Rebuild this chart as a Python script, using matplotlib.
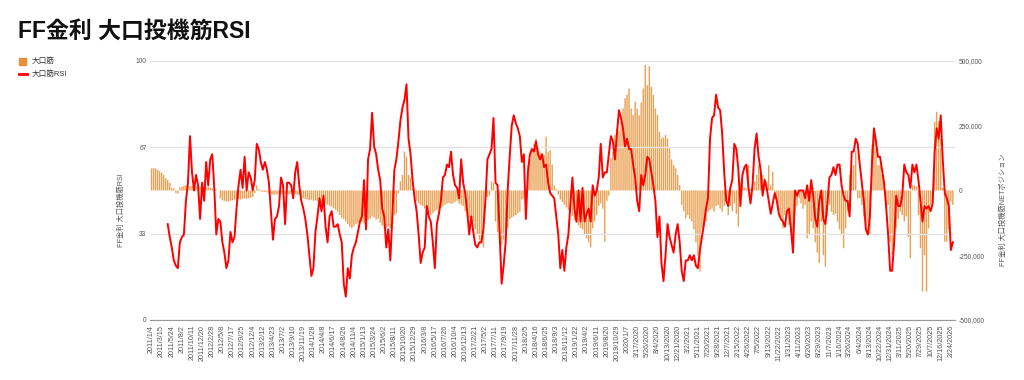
import numpy as np
import matplotlib
matplotlib.use('Agg')
import matplotlib.pyplot as plt
from matplotlib.patches import Rectangle
from matplotlib.lines import Line2D
from matplotlib.ticker import FuncFormatter

plt.rcParams['font.family'] = ['Liberation Sans', 'Noto Sans CJK JP', 'DejaVu Sans']

# 2週間ごとのデータ（2011/1/4 から）
# 大口投機筋ネットポジション（千枚）
net_k = [
    85, 86, 85, 80, 75, 68, 60, 47, 40, 30,
    10, 8, -10, -12, 12, 15, 18, 20, 18, 16,
    18, 15, 18, 16, 15, 18, 15, 14, 16, 12,
    8, 4, 2, 0, -30, -38, -40, -43, -42, -40,
    -38, -35, -36, -33, -35, -32, -30, -33, -30, -28,
    -25, -10, 20, 5, -4, -5, -6, -5, -10, -13,
    -15, -17, -14, -12, -15, -12, -14, -13, -16, -12,
    -15, -14, -16, -17, -20, -30, -33, -35, -38, -36,
    -40, -38, -42, -43, -45, -48, -50, -55, -60, -62,
    -68, -75, -82, -95, -105, -110, -120, -130, -140, -145,
    -138, -130, -125, -118, -122, -127, -120, -115, -110, -100,
    -105, -112, -108, -125, -135, -145, -146, -140, -146, -120,
    -95, -90, -10, 35, 60, 150, 130, 60, 50, 8,
    -30, -40, -50, -55, -60, -70, -80, -90, -95, -88,
    -80, -75, -70, -65, -62, -55, -50, -48, -52, -50,
    -45, -40, -50, -55, -60, -80, -95, -105, -112, -120,
    -150, -170, -190, -205, -220, -30, -25, -20, 35, 30,
    -120, -160, -190, -210, -190, -160, -146, -110, -105, -100,
    -95, -88, -82, -35, -30, -25, 100, 120, 160, 180,
    200, 165, 150, 140, 137, 208, 150, 156, 100, 20,
    5, -15, -35, -45, -55, -65, -75, -85, -100, -115,
    -125, -135, -145, -150, -170, -185, -200, -220, -146, -120,
    -95, -60, -50, -70, -198, -40, -20, 125, 150, 215,
    240, 230, 266, 317, 356, 370, 394, 317, 292, 343,
    317, 290, 340, 394, 485, 407, 480, 400, 369, 317,
    292, 227, 201, 205, 214, 200, 163, 120, 98, 86,
    60, 21, -56, -80, -107, -95, -110, -120, -150, -200,
    -250, -313, -146, -135, -120, -82, -75, -70, -82, -60,
    -56, -70, -82, -60, -43, -95, -60, -80, -50, -90,
    -140, 34, 20, 10, 8, 98, 5, 10, 34, 60,
    98, 80, 60, 47, 34, 98, 20, 73, -20, -43,
    -82, -110, -146, -95, -90, -133, -150, -172, -95, -60,
    -30, -50, -70, -55, -185, -172, -120, -146, -200, -240,
    -280, -120, -250, -294, -100, -56, -82, -95, -90, -120,
    -150, -172, -223, -146, -82, 60, 80, 98, 150, -30,
    -30, -56, -100, -146, -120, -170, 175, 227, 200, 98,
    98, 60, 34, -56, -56, -200, -250, -220, -146, -110,
    -82, -95, -120, -100, -180, -262, 20, 20, 15, -95,
    -223, -390, -250, -390, -146, -56, -43, 266, 304, 266,
    200, 10, -198, -198, -150, -43, -56,
]

# 大口筋RSI
rsi = [None] * 8 + [
    37, 32, 28, 23, 21, 20, 30, 32, 33, 46,
    53, 71, 57, 50, 56, 52, 39, 53, 46, 61,
    52, 62, 64, 51, 33, 39, 38, 30, 26, 20,
    23, 34, 30, 32, 43, 52, 58, 51, 63, 50,
    57, 55, 50, 54, 68, 66, 61, 58, 61, 58,
    53, 42, 31, 39, 40, 44, 55, 52, 37, 53,
    53, 52, 47, 57, 61, 52, 46, 43, 39, 33,
    25, 17, 20, 34, 40, 47, 42, 48, 36, 30,
    40, 42, 36, 36, 37, 33, 30, 14, 9, 20,
    16, 25, 28, 30, 34, 38, 40, 54, 35, 62,
    66, 80, 67, 64, 58, 54, 43, 40, 28, 35,
    23, 40, 58, 62, 69, 77, 82, 85, 91, 70,
    64, 54, 47, 42, 33, 22, 26, 28, 44, 40,
    38, 30, 20, 37, 41, 46, 55, 56, 60, 59,
    65, 56, 52, 51, 47, 62, 53, 49, 42, 33,
    40, 34, 29, 28, 30, 30, 35, 46, 62, 64,
    66, 78, 53, 52, 34, 14, 21, 30, 50, 63,
    75, 79, 76, 74, 71, 61, 64, 39, 57, 64,
    66, 65, 69, 64, 62, 64, 59, 60, 53, 49,
    48, 47, 40, 33, 20, 27, 19, 28, 33, 45,
    55, 43, 38, 50, 38, 51, 38, 41, 43, 38,
    52, 48, 50, 55, 68, 55, 57, 57, 64, 71,
    69, 62, 72, 81, 78, 74, 67, 70, 66, 66,
    60, 55, 46, 42, 56, 52, 56, 63, 62, 57,
    52, 46, 32, 40, 22, 15, 25, 37, 32, 29,
    26, 33, 37, 30, 19, 15, 23, 23, 25, 23,
    25, 21, 20, 27, 32, 37, 43, 47, 70, 78,
    79, 87, 82, 81, 72, 57, 46, 44, 51, 54,
    68, 66, 58, 44, 56, 59, 60, 51, 45, 52,
    66, 72, 63, 58, 48, 54, 51, 46, 41, 45,
    49, 46, 41, 39, 38, 36, 42, 43, 35, 26,
    50, 48, 50, 50, 50, 47, 52, 46, 54, 48,
    39, 36, 46, 50, 39, 37, 45, 55, 56, 59,
    56, 60, 60, 52, 48, 46, 46, 40, 65, 65,
    70, 68, 60, 53, 46, 35, 33, 40, 60, 74,
    69, 63, 63, 58, 53, 44, 33, 19, 19, 30,
    48, 44, 44, 48, 60, 57, 56, 51, 60, 57,
    60, 54, 46, 38, 44, 43, 44, 42, 45, 65,
    74, 70, 79, 62, 49, 47, 44, 27, 30,
]

# 横軸ラベル（10週ごと）
tick_labels = [
    '2011/1/4', '2011/3/15', '2011/5/24', '2011/8/2', '2011/10/11', '2011/12/20',
    '2012/2/28', '2012/5/8', '2012/7/17', '2012/9/25', '2012/12/4',
    '2013/2/12', '2013/4/23', '2013/7/2', '2013/9/10', '2013/11/19',
    '2014/1/28', '2014/4/8', '2014/6/17', '2014/8/26', '2014/11/4',
    '2015/1/13', '2015/3/24', '2015/6/2', '2015/8/11', '2015/10/20', '2015/12/29',
    '2016/3/8', '2016/5/17', '2016/7/26', '2016/10/4', '2016/12/13',
    '2017/2/21', '2017/5/2', '2017/7/11', '2017/9/19', '2017/11/28',
    '2018/2/5', '2018/4/16', '2018/6/25', '2018/9/3', '2018/11/12',
    '2019/1/22', '2019/4/2', '2019/6/11', '2019/8/20', '2019/10/29',
    '2020/1/7', '3/17/2020', '5/26/2020', '8/4/2020', '10/13/2020', '12/21/2020',
    '3/2/2021', '5/11/2021', '7/20/2021', '9/28/2021', '12/7/2021',
    '2/15/2022', '4/26/2022', '7/5/2022', '9/13/2022', '11/22/2022',
    '1/31/2023', '4/11/2023', '6/20/2023', '8/29/2023', '11/7/2023',
    '1/16/2024', '3/26/2024', '6/4/2024', '8/13/2024', '10/22/2024', '12/31/2024',
    '3/11/2025', '5/20/2025', '7/29/2025', '10/7/2025', '12/16/2025',
    '2/24/2026',
]

ORANGE = '#e69138'
TXT = '#555555'

weeks = np.arange(len(net_k)) * 2          # 週番号
net = np.array(net_k) * 1000
rsi_arr = np.array([np.nan if v is None else v for v in rsi], dtype=float)

fig = plt.figure(figsize=(10.24, 3.8), dpi=100)
ax = fig.add_axes([0.1465, 0.158, 0.786, 0.6815])
ax2 = ax.twinx()

# 棒グラフ（右軸）
bars = ax2.bar(weeks, net, width=1.4, color=ORANGE, alpha=0.85,
               edgecolor='none', linewidth=0)
for b in bars:
    b.set_snap(False)
ax2.set_ylim(-500000, 500000)
ax2.set_yticks([-500000, -250000, 0, 250000, 500000])
ax2.yaxis.set_major_formatter(FuncFormatter(lambda v, p: f'{int(v):,}'))

# RSI（左軸）
ax.plot(weeks, rsi_arr, color='#ff0000', lw=1.4, zorder=5)
ax.set_ylim(0, 100)
ax.set_yticks([0, 100 / 3, 200 / 3, 100])
ax.set_yticklabels(['0', '33', '67', '100'])
ax.grid(axis='y', color='#e3e3e3', lw=1)
ax.set_axisbelow(True)
ax.set_zorder(ax2.get_zorder() + 1)
ax.patch.set_visible(False)

ax.set_xlim(-1.5, 794)
ax.set_xticks(np.arange(len(tick_labels)) * 10)
ax.set_xticklabels(tick_labels, rotation=90)

for a in (ax, ax2):
    for s in ('top', 'left', 'right'):
        a.spines[s].set_visible(False)
    a.tick_params(length=0, labelsize=4.8, colors=TXT)
ax.spines['bottom'].set_color('#999999')
ax2.spines['bottom'].set_visible(False)
ax.tick_params(axis='x', labelsize=5.2, pad=3.5)
ax.tick_params(axis='y', pad=2.5)
ax2.tick_params(axis='y', pad=3)

ax.set_ylabel('FF金利 大口投機筋RSI', fontsize=5.2, color=TXT)
ax.yaxis.set_label_coords(-0.031, 0.425)
ax2.set_ylabel('FF金利 大口投機筋NETポジション', fontsize=5.2, color=TXT)
ax2.yaxis.set_label_coords(1.056, 0.425)

fig.text(0.018, 0.917, 'FF金利 大口投機筋RSI', fontsize=16.5, fontweight='bold',
         va='center', ha='left', color='#111111')

# 凡例
W, H = 1024, 380
fig.add_artist(Rectangle((19 / W, 1 - 65 / H), 7 / W, 7 / H,
                         transform=fig.transFigure, color=ORANGE))
fig.add_artist(Line2D([19 / W, 27 / W], [1 - 74 / H, 1 - 74 / H],
                      transform=fig.transFigure, color='#ff0000', lw=2))
fig.text(32 / W, 1 - 61.5 / H, '大口筋', fontsize=5.5, va='center', color='#333333')
fig.text(32 / W, 1 - 74 / H, '大口筋RSI', fontsize=5.5, va='center', color='#333333')

fig.savefig('out.png', dpi=100)
